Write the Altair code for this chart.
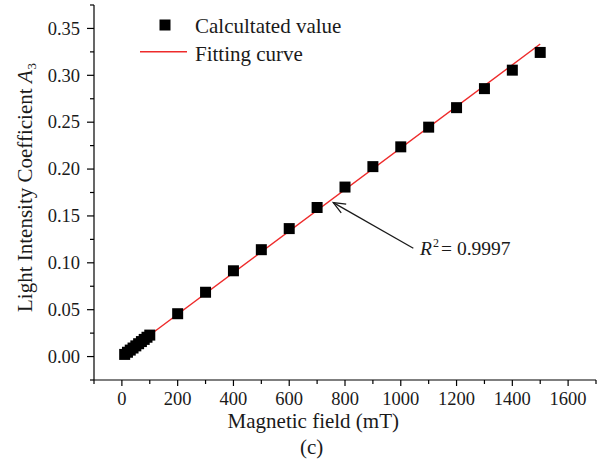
import altair as alt
import pandas as pd

# ---- data ----
field = [10, 20, 30, 40, 50, 60, 70, 80, 90, 100,
         200, 300, 400, 500, 600, 700, 800, 900, 1000,
         1100, 1200, 1300, 1400, 1500]
a3 = [0.0023, 0.0046, 0.0069, 0.0091, 0.0114, 0.0137, 0.0160, 0.0183, 0.0206, 0.0229,
      0.0457, 0.0686, 0.0915, 0.1140, 0.1365, 0.1590, 0.1808, 0.2026, 0.2237,
      0.2447, 0.2655, 0.2858, 0.3055, 0.3244]
fit_field = [10, 1500]
fit_a3 = [0.0030, 0.3334]

x_major = [0, 200, 400, 600, 800, 1000, 1200, 1400, 1600]
x_labels = ["0", "200", "400", "600", "800", "1000", "1200", "1400", "1600"]
x_minor = [-100, 100, 300, 500, 700, 900, 1100, 1300, 1500, 1700]
y_major = [0.00, 0.05, 0.10, 0.15, 0.20, 0.25, 0.30, 0.35]
y_labels = ["0.00", "0.05", "0.10", "0.15", "0.20", "0.25", "0.30", "0.35"]
y_minor = [-0.025, 0.025, 0.075, 0.125, 0.175, 0.225, 0.275, 0.325, 0.375]

legend_labels = ["Calcultated value", "Fitting curve"]
x_title = "Magnetic field (mT)"
panel_label = "(c)"
y_title_main = "Light Intensity Coefficient"
y_title_sym = "A"
y_title_sub = "3"
r2_symbol = "R"
r2_power = "2"
r2_value = "= 0.9997"

arrow_tip = (758, 0.1642)
arrow_tail = (1045, 0.1155)
r2_anchor = (1069, 0.1084)

# ---- layout / style ----
W, H = 502, 375
FONT = "Liberation Serif"
INK = "#1a1a1a"
RED = "#ee2b2b"
TICK_FS = 18.5

xscale = alt.Scale(domain=[-100, 1700], nice=False, zero=False)
yscale = alt.Scale(domain=[-0.025, 0.375], nice=False, zero=False)


def X(f):
    return alt.X(f, scale=xscale, axis=None)


def Y(f):
    return alt.Y(f, scale=yscale, axis=None)


one = pd.DataFrame({"k": [0]})

df = pd.DataFrame({"field": field, "a3": a3})
fit_df = pd.DataFrame({"field": fit_field, "a3": fit_a3})
xt_df = pd.DataFrame({"v": x_major, "t": x_labels})
yt_df = pd.DataFrame({"v": y_major, "t": y_labels})

# ---- axes drawn through the scales ----
x_domain = alt.Chart(one).mark_rule(color="black", strokeWidth=1.2).encode(
    x=alt.value(0), x2=alt.value(W), y=alt.value(H))
y_domain = alt.Chart(one).mark_rule(color="black", strokeWidth=1.2).encode(
    y=alt.value(0), y2=alt.value(H), x=alt.value(0))
x_major_ticks = alt.Chart(xt_df).mark_rule(color="black", strokeWidth=1.2).encode(
    x=X("v:Q"), y=alt.value(H), y2=alt.value(H + 6))
y_major_ticks = alt.Chart(yt_df).mark_rule(color="black", strokeWidth=1.2).encode(
    y=Y("v:Q"), x=alt.value(0), x2=alt.value(-7))
x_minor_ticks = alt.Chart(pd.DataFrame({"v": x_minor})).mark_rule(color="black", strokeWidth=1.2).encode(
    x=X("v:Q"), y=alt.value(H), y2=alt.value(H + 4))
y_minor_ticks = alt.Chart(pd.DataFrame({"v": y_minor})).mark_rule(color="black", strokeWidth=1.2).encode(
    y=Y("v:Q"), x=alt.value(0), x2=alt.value(-4))
x_tick_labels = alt.Chart(xt_df).mark_text(
    font=FONT, fontSize=TICK_FS, align="center", baseline="alphabetic", color=INK).encode(
    x=X("v:Q"), y=alt.value(400), text="t:N")
y_tick_labels = alt.Chart(yt_df).mark_text(
    font=FONT, fontSize=TICK_FS, align="right", baseline="alphabetic", color=INK, dy=6.3).encode(
    y=Y("v:Q"), x=alt.value(-14), text="t:N")

# ---- data marks ----
points = alt.Chart(df).mark_point(shape="square", filled=True, color="black",
                                  size=121, opacity=1).encode(
    x=X("field:Q"), y=Y("a3:Q"))
fit_line = alt.Chart(fit_df).mark_line(color=RED, strokeWidth=1.4).encode(
    x=X("field:Q"), y=Y("a3:Q"))

# ---- legend ----
leg_sq = alt.Chart(one).mark_point(
    shape="square", filled=True, color="black", size=121, opacity=1).encode(
    x=alt.value(71), y=alt.value(20))
leg_line = alt.Chart(one).mark_rule(color=RED, strokeWidth=1.4).encode(
    x=alt.value(46), x2=alt.value(93), y=alt.value(46.7))
leg_txt1 = alt.Chart(pd.DataFrame({"t": [legend_labels[0]]})).mark_text(
    font=FONT, fontSize=21, align="left", baseline="alphabetic", color=INK).encode(
    x=alt.value(101), y=alt.value(28.3), text="t:N")
leg_txt2 = alt.Chart(pd.DataFrame({"t": [legend_labels[1]]})).mark_text(
    font=FONT, fontSize=21, align="left", baseline="alphabetic", color=INK).encode(
    x=alt.value(101), y=alt.value(55.7), text="t:N")

# ---- annotation ----
arrow_df = pd.DataFrame({"x": [arrow_tail[0]], "y": [arrow_tail[1]],
                         "x2": [arrow_tip[0]], "y2": [arrow_tip[1]]})
shaft = alt.Chart(arrow_df).mark_rule(color=INK, strokeWidth=1.3).encode(
    x=X("x:Q"), y=Y("y:Q"), x2="x2:Q", y2="y2:Q")
head = alt.Chart(pd.DataFrame({"x": [arrow_tip[0]], "y": [arrow_tip[1]]})).mark_point(
    shape="M -1 -0.42 L 0 0 L -1 0.42", filled=False, color=INK, strokeWidth=1.3,
    size=575, angle=209.7, opacity=1).encode(x=X("x:Q"), y=Y("y:Q"))

r2_df = pd.DataFrame({"x": [r2_anchor[0]], "y": [r2_anchor[1]],
                      "s": [r2_symbol], "p": [r2_power], "v": [r2_value]})
r2_R = alt.Chart(r2_df).mark_text(font=FONT, fontSize=19.5, fontStyle="italic",
                                  align="left", baseline="alphabetic", color=INK).encode(
    x=X("x:Q"), y=Y("y:Q"), text="s:N")
r2_P = alt.Chart(r2_df).mark_text(font=FONT, fontSize=12, align="left", baseline="alphabetic",
                                  color=INK, dx=13, dy=-8).encode(
    x=X("x:Q"), y=Y("y:Q"), text="p:N")
r2_V = alt.Chart(r2_df).mark_text(font=FONT, fontSize=19.5, align="left", baseline="alphabetic",
                                  color=INK, dx=21).encode(
    x=X("x:Q"), y=Y("y:Q"), text="v:N")

# ---- axis titles ----
xt = alt.Chart(pd.DataFrame({"t": [x_title]})).mark_text(
    font=FONT, fontSize=21, align="center", baseline="alphabetic", color=INK).encode(
    x=alt.value(219.3), y=alt.value(423), text="t:N")
pl = alt.Chart(pd.DataFrame({"t": [panel_label]})).mark_text(
    font=FONT, fontSize=21, align="center", baseline="alphabetic", color=INK).encode(
    x=alt.value(217.7), y=alt.value(448.5), text="t:N")
yt1 = alt.Chart(pd.DataFrame({"t": [y_title_main]})).mark_text(
    font=FONT, fontSize=21, align="left", baseline="alphabetic", angle=270, color=INK).encode(
    x=alt.value(-62.3), y=alt.value(307), text="t:N")
yt2 = alt.Chart(pd.DataFrame({"t": [y_title_sym]})).mark_text(
    font=FONT, fontSize=21, fontStyle="italic", align="left", baseline="alphabetic",
    angle=270, color=INK).encode(
    x=alt.value(-62.3), y=alt.value(78), text="t:N")
yt3 = alt.Chart(pd.DataFrame({"t": [y_title_sub]})).mark_text(
    font=FONT, fontSize=13, align="left", baseline="alphabetic", angle=270, color=INK).encode(
    x=alt.value(-58), y=alt.value(64.5), text="t:N")

chart = alt.layer(
    x_domain, y_domain, x_major_ticks, y_major_ticks, x_minor_ticks, y_minor_ticks,
    x_tick_labels, y_tick_labels,
    fit_line, points, leg_sq, leg_line, leg_txt1, leg_txt2,
    shaft, head, r2_R, r2_P, r2_V, xt, pl, yt1, yt2, yt3
).properties(
    width=W, height=H,
    background="white",
    autosize=alt.AutoSizeParams(type="none"),
    padding={"left": 94, "top": 5, "right": 2, "bottom": 89},
).configure_view(stroke=None)

chart.save("out.html", embed_options={"renderer": "svg", "actions": False})
